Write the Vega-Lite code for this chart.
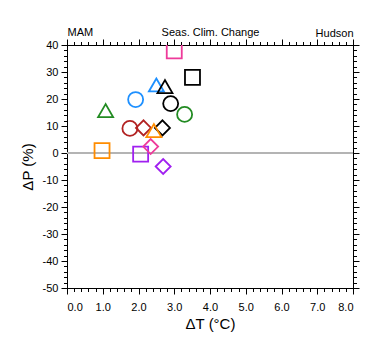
{
  "$schema": "https://vega.github.io/schema/vega-lite/v6.json",
  "width": 286,
  "height": 243,
  "autosize": {"type": "none"},
  "padding": {"left": 67, "top": 45, "right": 27, "bottom": 67},
  "background": "white",
  "config": {
    "view": {"stroke": null},
    "axis": {
      "domainColor": "#000",
      "domainWidth": 1,
      "tickColor": "#000",
      "tickWidth": 1,
      "labelColor": "#000",
      "titleColor": "#000",
      "labelFont": "Liberation Sans",
      "titleFont": "Liberation Sans",
      "labelFontSize": 11,
      "titleFontSize": 15,
      "titleFontWeight": "normal",
      "grid": false,
      "zindex": 1
    }
  },
  "data": {
    "values": [
      {"gcm": "G1", "rcm": "R2", "dT": 3.0, "dP": 37.8},
      {"gcm": "G2", "rcm": "R2", "dT": 3.51, "dP": 28.0},
      {"gcm": "G3", "rcm": "R3", "dT": 2.5, "dP": 25.2},
      {"gcm": "G2", "rcm": "R3", "dT": 2.74, "dP": 24.6},
      {"gcm": "G3", "rcm": "R1", "dT": 1.92, "dP": 19.8},
      {"gcm": "G2", "rcm": "R1", "dT": 2.9, "dP": 18.3},
      {"gcm": "G4", "rcm": "R1", "dT": 3.29, "dP": 14.3},
      {"gcm": "G4", "rcm": "R3", "dT": 1.08, "dP": 15.7},
      {"gcm": "G5", "rcm": "R1", "dT": 1.76, "dP": 9.1},
      {"gcm": "G5", "rcm": "R4", "dT": 2.14, "dP": 9.3},
      {"gcm": "G2", "rcm": "R4", "dT": 2.67, "dP": 9.3},
      {"gcm": "G6", "rcm": "R3", "dT": 2.43, "dP": 8.3},
      {"gcm": "G6", "rcm": "R2", "dT": 0.98, "dP": 0.9},
      {"gcm": "G7", "rcm": "R2", "dT": 2.06, "dP": -0.4},
      {"gcm": "G1", "rcm": "R4", "dT": 2.34, "dP": 2.4},
      {"gcm": "G7", "rcm": "R4", "dT": 2.69, "dP": -5.0}
    ]
  },
  "layer": [
    {
      "mark": {"type": "rule", "color": "#b4b4b4", "strokeWidth": 2},
      "encoding": {
        "x": {"datum": 0, "type": "quantitative", "scale": {"domain": [0, 8], "nice": false, "zero": false},
          "axis": {"orient": "bottom", "values": [0,0.2,0.4,0.6,0.8,1,1.2,1.4,1.6,1.8,2,2.2,2.4,2.6,2.8,3,3.2,3.4,3.6,3.8,4,4.2,4.4,4.6,4.8,5,5.2,5.4,5.6,5.8,6,6.2,6.4,6.6,6.8,7,7.2,7.4,7.6,7.8,8], "tickSize": 3.5, "labels": false, "title": null}},
        "x2": {"datum": 8},
        "y": {"datum": 0, "type": "quantitative", "scale": {"domain": [-50, 40], "nice": false, "zero": false},
          "axis": {"orient": "left", "values": [-50,-48,-46,-44,-42,-40,-38,-36,-34,-32,-30,-28,-26,-24,-22,-20,-18,-16,-14,-12,-10,-8,-6,-4,-2,0,2,4,6,8,10,12,14,16,18,20,22,24,26,28,30,32,34,36,38,40], "tickSize": 3.5, "labels": false, "title": null}}
      }
    },
    {
      "mark": {"type": "rule", "opacity": 0},
      "encoding": {
        "x": {"datum": 0, "type": "quantitative",
          "axis": {"orient": "top", "values": [0,1,2,3,4,5,6,7,8], "tickSize": 6, "labels": false, "title": "Seas. Clim. Change", "titleFontSize": 11, "titlePadding": 1}},
        "x2": {"datum": 8},
        "y": {"datum": 0, "type": "quantitative",
          "axis": {"orient": "right", "values": [-50,-40,-30,-20,-10,0,10,20,30,40], "tickSize": 6, "labels": false, "title": null}}
      }
    },
    {
      "mark": {"type": "rule", "opacity": 0},
      "encoding": {
        "x": {"datum": 0, "type": "quantitative",
          "axis": {"orient": "top", "values": [0,0.2,0.4,0.6,0.8,1,1.2,1.4,1.6,1.8,2,2.2,2.4,2.6,2.8,3,3.2,3.4,3.6,3.8,4,4.2,4.4,4.6,4.8,5,5.2,5.4,5.6,5.8,6,6.2,6.4,6.6,6.8,7,7.2,7.4,7.6,7.8,8], "tickSize": 3.5, "labels": false, "title": "MAM", "titleFontSize": 11, "titleAnchor": "start", "titlePadding": 3.5}},
        "x2": {"datum": 8},
        "y": {"datum": 0, "type": "quantitative",
          "axis": {"orient": "right", "values": [-50,-48,-46,-44,-42,-40,-38,-36,-34,-32,-30,-28,-26,-24,-22,-20,-18,-16,-14,-12,-10,-8,-6,-4,-2,0,2,4,6,8,10,12,14,16,18,20,22,24,26,28,30,32,34,36,38,40], "tickSize": 3.5, "labels": false, "title": null}}
      }
    },
    {
      "mark": {"type": "rule", "opacity": 0},
      "encoding": {
        "x": {"datum": 0, "type": "quantitative",
          "axis": {"orient": "top", "domain": false, "ticks": false, "labels": false, "title": "Hudson", "titleFontSize": 11, "titleAnchor": "end", "titlePadding": 7}},
        "x2": {"datum": 8},
        "y": {"datum": 0, "type": "quantitative", "axis": null}
      }
    },
    {
      "mark": {"type": "point", "filled": false, "size": 225, "strokeWidth": 1.8, "opacity": 1, "clip": true},
      "encoding": {
        "x": {"field": "dT", "type": "quantitative",
          "axis": {"orient": "bottom", "values": [0,1,2,3,4,5,6,7,8], "format": ".1f", "tickSize": 6, "labelPadding": 7, "title": "ΔT (°C)", "titlePadding": 4}},
        "y": {"field": "dP", "type": "quantitative",
          "axis": {"orient": "left", "values": [-50,-40,-30,-20,-10,0,10,20,30,40], "tickSize": 6, "labelPadding": 3, "labelExpr": "'' + datum.value", "title": "ΔP (%)", "titlePadding": 7}},
        "color": {"field": "gcm", "type": "nominal",
          "scale": {"domain": ["G1","G2","G3","G4","G5","G6","G7"], "range": ["#ee3a9a","#000000","#1e90ff","#228b22","#b22222","#ff8c00","#a020f0"]},
          "legend": null},
        "shape": {"field": "rcm", "type": "nominal",
          "scale": {"domain": ["R1","R2","R3","R4"], "range": ["circle","square","triangle-up","diamond"]},
          "legend": null}
      }
    }
  ],
  "resolve": {"axis": {"x": "independent", "y": "independent"}}
}
